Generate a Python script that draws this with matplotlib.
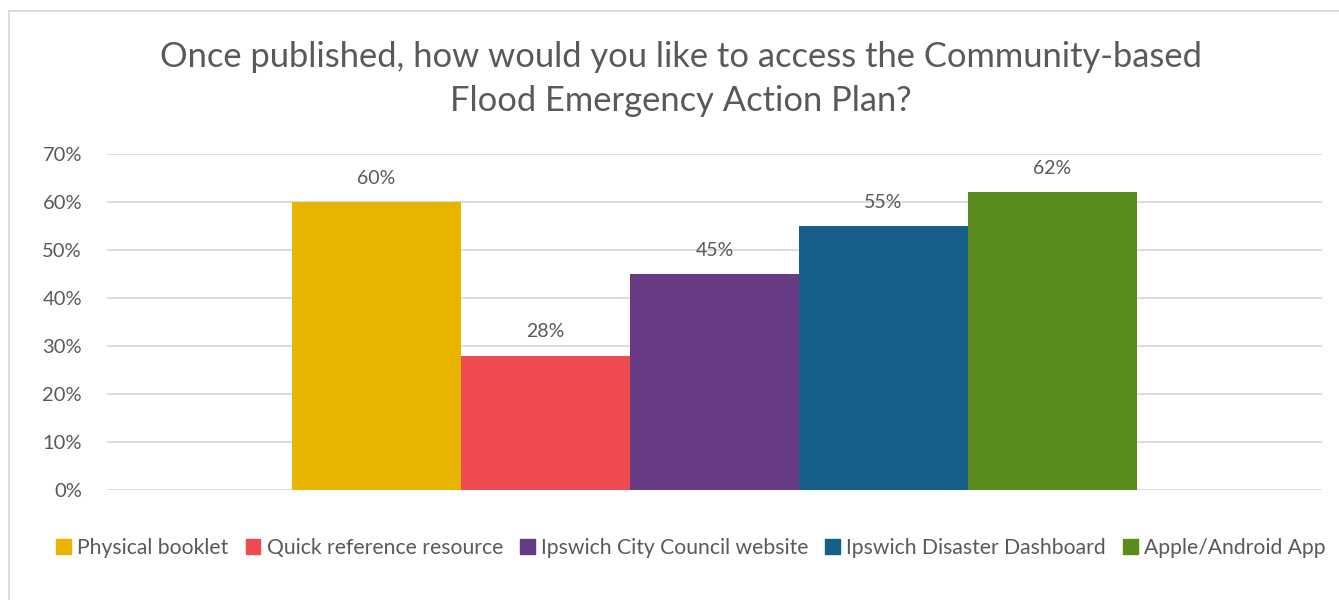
import matplotlib
matplotlib.use("Agg")
import matplotlib.pyplot as plt
from matplotlib.patches import Rectangle
from matplotlib.lines import Line2D

# Survey responses
categories = ["Physical booklet", "Quick reference resource", "Ipswich City Council website",
              "Ipswich Disaster Dashboard", "Apple/Android App"]
values = [60, 28, 45, 55, 62]
colors = ["#E8B400", "#EF4B51", "#663B83", "#155F88", "#5A8C1D"]
yticks = [0, 10, 20, 30, 40, 50, 60, 70]
title = "Once published, how would you like to access the Community-based\nFlood Emergency Action Plan?"

plt.rcParams["font.family"] = ["Lato", "DejaVu Sans"]
text_color = "#595959"

fig = plt.figure(figsize=(13.39, 6.0), dpi=100)
ax = fig.add_axes([107 / 1339, 1 - 490 / 600, (1322 - 107) / 1339, (490 - 154) / 600])

positions = [i - (len(values) - 1) / 2 for i in range(len(values))]
bars = ax.bar(positions, values, width=1.0, color=colors, zorder=3)
for b, v in zip(bars, values):
    ax.annotate(f"{v}%", (b.get_x() + b.get_width() / 2, v), xytext=(0, 11),
                textcoords="offset points", ha="center", va="bottom",
                fontsize=14, color=text_color)

ax.set_xlim(-3.595, 3.595)
ax.set_ylim(0, 70)
ax.set_yticks(yticks)
ax.set_yticklabels([f"{t}%" for t in yticks])
ax.set_xticks([])
ax.tick_params(axis="y", length=0, pad=18, labelsize=14.5, labelcolor=text_color)
ax.yaxis.grid(True, color="#D9D9D9", linewidth=1.3, zorder=0)
for s in ax.spines.values():
    s.set_visible(False)

fig.text(681 / 1339, 1 - 79 / 600, title, ha="center", va="center", fontsize=24.8,
         color=text_color, linespacing=1.45)

handles = [Rectangle((0, 0), 1, 1, color=c) for c in colors]
fig.legend(handles, categories, loc="center", bbox_to_anchor=(691 / 1339, 1 - 548 / 600),
           ncol=5, frameon=False, fontsize=15.2, labelcolor=text_color,
           handlelength=0.7, handleheight=0.7, handletextpad=0.3, columnspacing=0.8)

# light chart-area frame
fig.add_artist(Line2D([9 / 1339, 9 / 1339], [0, 1 - 11 / 600], transform=fig.transFigure,
                      color="#D9D9D9", linewidth=1.3))
fig.add_artist(Line2D([9 / 1339, 1], [1 - 11 / 600, 1 - 11 / 600], transform=fig.transFigure,
                      color="#D9D9D9", linewidth=1.3))

fig.savefig("out.png", dpi=100, facecolor="white")
